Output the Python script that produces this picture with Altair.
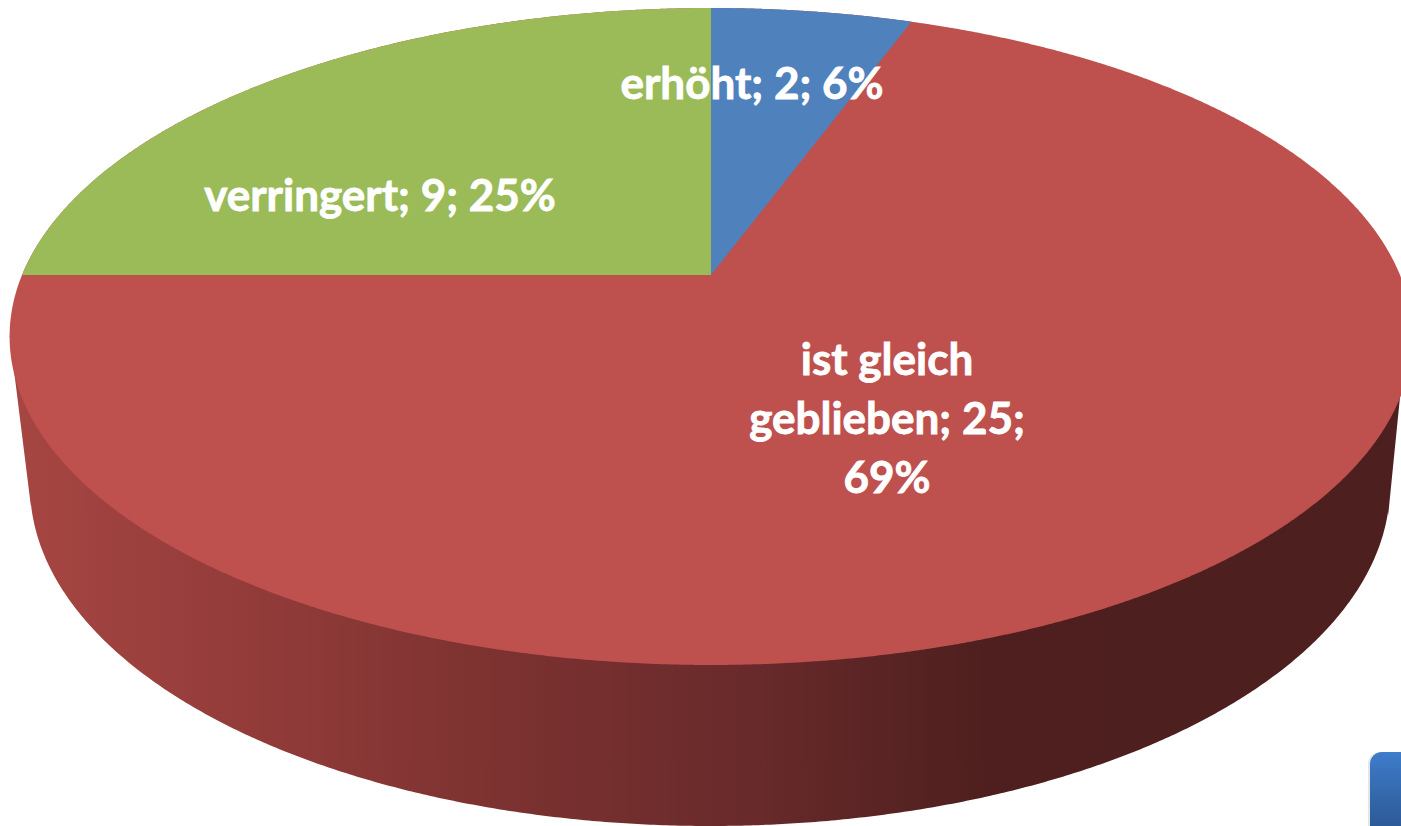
import numpy as np
import pandas as pd
import altair as alt

# --- chart values -----------------------------------------------------------
categories = ["erhöht", "ist gleich geblieben", "verringert"]
values = [2, 25, 9]
slice_colors = ["#4F81BD", "#BE504E", "#9BBB59"]
label_lines = ["erhöht; {v}; {p}%", "ist gleich\ngeblieben; {v};\n{p}%", "verringert; {v}; {p}%"]
label_x = [752, 887, 380]
label_y = [86, 362, 198]

# --- perspective model of the pie's top face (a tilted circle) --------------
CX, CY = 711.0, 275.0   # picture of the pie's centre
A = 689.0               # horizontal radius at the centre line
B = 265.5               # vertical scale
C = 0.1872              # perspective strength
# lower rim of the wall
RIM_X, RIM_Y, RIM_A, RIM_B = 710.0, 486.0, 680.0, 340.0


def project(theta):
    u, v = np.sin(theta), np.cos(theta)
    d = 1 + C * v
    return CX + A * u / d, (CY - B * v) / d


def branches(x):
    """Upper and lower edge of the top face at picture column x."""
    k = (np.asarray(x, dtype=float) - CX) / A
    qa = k**2 * C**2 + 1
    qb = 2 * k**2 * C
    qc = k**2 - 1
    root = np.sqrt(np.clip(qb**2 - 4 * qa * qc, 0, None))
    hi, lo = (-qb + root) / (2 * qa), (-qb - root) / (2 * qa)
    return (CY - B * hi) / (1 + C * hi), (CY - B * lo) / (1 + C * lo)


half = A / np.sqrt(1 - C**2)
XMIN, XMAX = CX - half, CX + half
ts = np.linspace(0, np.pi, 900)
xs_full = (XMIN + XMAX) / 2 + half * -np.cos(ts)
up_full, lo_full = branches(xs_full)

total = sum(values)
percents = [round(v / total * 100) for v in values]
ang_end = np.cumsum(values) / total * 2 * np.pi
ang_start = ang_end - np.array(values) / total * 2 * np.pi

# blue: from the 12 o'clock point clockwise to its end angle
bx_end, by_end = project(ang_end[0])
bx = np.linspace(CX, bx_end, 200)
blue = pd.DataFrame({
    "x": bx,
    "y": branches(bx)[0],
    "y2": CY + (bx - CX) / (bx_end - CX) * (by_end - CY),
})

# green: from its start angle round to 12 o'clock
gx_start, gy_start = project(ang_start[2])
gx = np.linspace(gx_start, CX, 400)
green = pd.DataFrame({
    "x": gx,
    "y": branches(gx)[0],
    "y2": CY + (gx - CX) / (gx_start - CX) * (gy_start - CY),
})

# red: whole top face, the other two are layered over it
red = pd.DataFrame({"x": xs_full, "y": up_full, "y2": lo_full})

# wall
wall_x = np.unique(np.concatenate([
    np.linspace(XMIN, 31, 12),
    RIM_X + RIM_A * -np.cos(np.linspace(0.05, np.pi - 0.05, 500)),
    np.linspace(1388, 1402, 12),
]))
wall_x = wall_x[wall_x <= 1402]


def wall_bottom(x):
    inner = RIM_Y + RIM_B * np.sqrt(np.clip(1 - ((x - RIM_X) / RIM_A) ** 2, 0, 1))
    left = 335 + (x - XMIN) / (31 - XMIN) * (507 - 335)
    right = 517 + (x - 1388) / (1402 - 1388) * (377 - 517)
    return np.where(x < 31, left, np.where(x > 1388, right, inner))


wall = pd.DataFrame({"x": wall_x, "y": wall_bottom(wall_x), "y2": 336.0})

x_scale = alt.Scale(domain=[0, 1401], nice=False, zero=False)
y_scale = alt.Scale(domain=[826, 0], nice=False, zero=False)
X = alt.X("x:Q", scale=x_scale, axis=None)
Y = alt.Y("y:Q", scale=y_scale, axis=None)


def face(df, fill):
    return alt.Chart(df).mark_area(clip=True, orient="vertical", fill=fill).encode(
        x=X, y=Y, y2="y2:Q"
    )


span = wall_x.max() - wall_x.min()
off = lambda px: float((px - wall_x.min()) / span)
wall_fill = alt.LinearGradient(
    gradient="linear", x1=0, y1=0, x2=1, y2=0,
    stops=[
        alt.GradientStop(color="#A74642", offset=0),
        alt.GradientStop(color="#953D3B", offset=off(220)),
        alt.GradientStop(color="#7C3230", offset=off(500)),
        alt.GradientStop(color="#692A2B", offset=off(750)),
        alt.GradientStop(color="#4E1F1E", offset=off(990)),
        alt.GradientStop(color="#4D1F1F", offset=1),
    ],
)

labels = pd.DataFrame({
    "label": [t.format(v=v, p=p) for t, v, p in zip(label_lines, values, percents)],
    "x": label_x,
    "y": label_y,
})
text = alt.Chart(labels).mark_text(
    font="Lato", fontWeight="bold", fontSize=44, color="white",
    stroke="white", strokeWidth=0.8,
    align="center", baseline="middle", lineBreak="\n", lineHeight=59,
).encode(x=X, y=Y, text="label:N")

button = pd.DataFrame({"x": [1370], "x2": [1420], "y": [752], "y2": [840]})
button_fill = alt.LinearGradient(
    gradient="linear", x1=0, y1=0, x2=0, y2=1,
    stops=[alt.GradientStop(color="#3E7CCA", offset=0), alt.GradientStop(color="#2C5A96", offset=0.85)],
)
button_shadow = alt.Chart(button).transform_calculate(xs="datum.x - 2").mark_rect(
    clip=True, cornerRadius=12, fill="#999999", opacity=0.25
).encode(
    x=alt.X("xs:Q", scale=x_scale, axis=None), x2="x2:Q", y=Y, y2="y2:Q"
)
button_rect = alt.Chart(button).mark_rect(clip=True, cornerRadius=12, fill=button_fill).encode(
    x=X, x2="x2:Q", y=Y, y2="y2:Q"
)

chart = alt.layer(
    face(wall, wall_fill),
    face(red, slice_colors[1]),
    face(green, slice_colors[2]),
    face(blue, slice_colors[0]),
    text,
    button_shadow,
    button_rect,
).properties(
    width=1401, height=826, padding=0, autosize=alt.AutoSizeParams(type="none"), background="white"
).configure_view(stroke=None)

chart.save(
    "out.html",
    embed_options={
        "renderer": "svg",
        "actions": False,
        "defaultStyle": "html,body{margin:0;padding:0;overflow:hidden} .vega-embed,svg{display:block}",
    },
)
